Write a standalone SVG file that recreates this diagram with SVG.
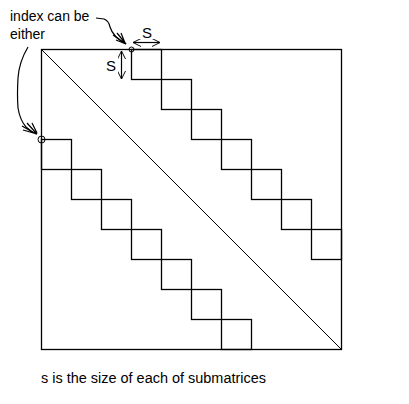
<svg xmlns="http://www.w3.org/2000/svg" width="409" height="404" viewBox="0 0 409 404">
<style>
.ln{fill:none;stroke:#000;stroke-width:1.2}
.blk{fill:none;stroke:#000;stroke-width:1.3}
.thin{fill:none;stroke:#000;stroke-width:1}
.t{font-family:"Liberation Sans",Arial,sans-serif;font-size:14px;fill:#000}
.s{font-family:"Liberation Sans",Arial,sans-serif;font-size:15px;fill:#000}
</style>
<defs>
<marker id="ah" viewBox="0 0 10 10" refX="10" refY="5" markerWidth="8" markerHeight="8" orient="auto-start-reverse" markerUnits="userSpaceOnUse">
<path d="M0,0 L10,5 L0,10" fill="none" stroke="#000" stroke-width="1.2"/>
</marker>
</defs>
<rect width="409" height="404" fill="#fff"/>
<g id="matrix">
<rect class="blk" x="41.5" y="49.5" width="300" height="300"/>
<line class="thin" x1="41.5" y1="49.5" x2="341.5" y2="349.5"/>
</g>
<g id="upper-blocks">
<rect class="blk" x="131.5" y="49.5" width="30" height="30"/>
<rect class="blk" x="161.5" y="79.5" width="30" height="30"/>
<rect class="blk" x="191.5" y="109.5" width="30" height="30"/>
<rect class="blk" x="221.5" y="139.5" width="30" height="30"/>
<rect class="blk" x="251.5" y="169.5" width="30" height="30"/>
<rect class="blk" x="281.5" y="199.5" width="30" height="30"/>
<rect class="blk" x="311.5" y="229.5" width="30" height="30"/>
</g>
<g id="lower-blocks">
<rect class="blk" x="41.5" y="139.5" width="30" height="30"/>
<rect class="blk" x="71.5" y="169.5" width="30" height="30"/>
<rect class="blk" x="101.5" y="199.5" width="30" height="30"/>
<rect class="blk" x="131.5" y="229.5" width="30" height="30"/>
<rect class="blk" x="161.5" y="259.5" width="30" height="30"/>
<rect class="blk" x="191.5" y="289.5" width="30" height="30"/>
<rect class="blk" x="221.5" y="319.5" width="30" height="30"/>
</g>
<g id="index-points">
<circle class="thin" cx="131.5" cy="49.5" r="2.5" fill="#fff"/>
<circle class="thin" cx="41.5" cy="139.5" r="3.5" fill="none"/>
</g>
<g id="labels">
<text class="t" x="10" y="21">index can be</text>
<text class="t" x="10" y="39">either</text>
<text class="s" x="142" y="38">S</text>
<text class="s" x="106" y="71">S</text>
<text class="t" x="41" y="383" textLength="225" lengthAdjust="spacingAndGlyphs">s is the size of each of submatrices</text>
</g>
<g id="connectors">
<line class="ln" x1="133" y1="42.5" x2="160" y2="42.5" marker-start="url(#ah)" marker-end="url(#ah)"/>
<line class="ln" x1="121.5" y1="51" x2="121.5" y2="79" marker-start="url(#ah)" marker-end="url(#ah)"/>
<path class="ln" d="M96,18 L104,19 Q109,21 110,27 Q113,37 126,44"/>
<path class="ln" d="M113,35 L126,44 M117,33 L126,44 M121,33 L125,43 M116,40 L126,44"/>
<path class="ln" d="M28,47 Q19,62 18,78 Q17,95 18,108 Q20,120 26,127 Q31,132 37,134"/>
<path class="ln" d="M23,130 L37,134 M27,123 L37,134 M32,123 L37,133 M22,126 L36,134"/>
</g>
</svg>
